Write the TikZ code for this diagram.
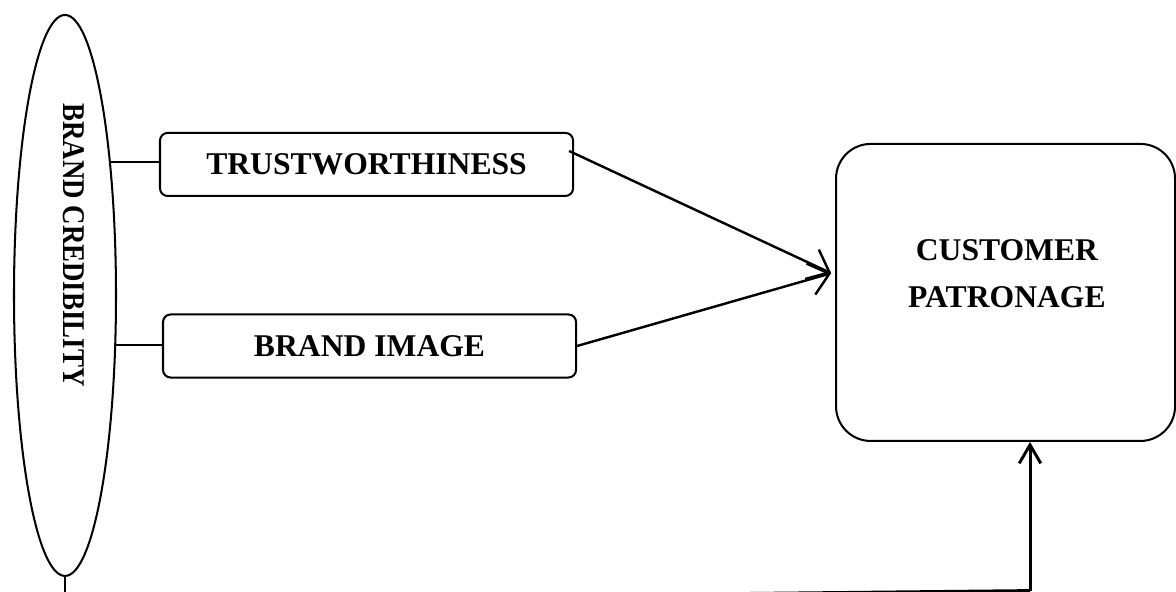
\documentclass[tikz,border=0pt]{standalone}
\usepackage{fontspec}
\setmainfont{Liberation Serif}
\usetikzlibrary{shapes.geometric,arrows.meta}

\begin{document}
\begin{tikzpicture}[
    lbl/.style={font=\fontsize{11.7}{17.3}\selectfont\bfseries},
    factor/.style={draw, rounded corners=0.1cm, minimum width=5.37cm, minimum height=0.82cm, lbl},
    flow/.style={-{Straight Barb[length=2.5mm,width=4.2mm]}, line width=0.9pt}]

  \useasboundingbox (0,0) rectangle (15.288,7.696);

  \begin{scope}[line width=0.75pt]
    \node[ellipse, draw, minimum width=1.326cm, minimum height=7.293cm, inner sep=0] (cred) at (0.845,3.855) {};
    \node[factor] (trust) at (4.765,5.558) {TRUSTWORTHINESS};
    \node[factor] (image) at (4.804,3.198) {BRAND IMAGE};
    \node[draw, rounded corners=0.45cm, minimum width=4.407cm, minimum height=3.861cm] (cust) at (13.072,3.894) {};
  \end{scope}

  \begin{scope}[every node/.style={lbl, inner sep=0}]
    \node[rotate=-90, xscale=0.85] (credtext) at (0.962,4.511) {BRAND CREDIBILITY};
    \node[align=center] (custtext) at (13.09,4.14) {CUSTOMER\\PATRONAGE};
  \end{scope}

  \coordinate (credfoot) at (0.845,-0.05);
  \coordinate (custin) at ([xshift=-0.05cm,yshift=0.25cm]cust.west);
  \coordinate (lowstart) at (9.7,-0.02);
  \coordinate (lowend) at (13.39,0.018);

  \begin{scope}[line width=0.75pt]
    \draw (cred.71) -- (cred.71 -| trust.west);
    \draw (cred.316) -- (cred.316 -| image.west);
    \draw (cred.south) -- (credfoot);
  \end{scope}

  \draw[flow] ([xshift=-0.065cm,yshift=0.175cm]trust.east) -- (custin);
  \draw[flow] (image.east) -- (custin);
  \draw[line width=1.1pt] (lowstart) -- (lowend);
  \draw[flow, line width=1.1pt, -{Straight Barb[length=2.4mm,width=2.8mm]}] (lowend) -- (lowend |- cust.south);

\end{tikzpicture}
\end{document}
